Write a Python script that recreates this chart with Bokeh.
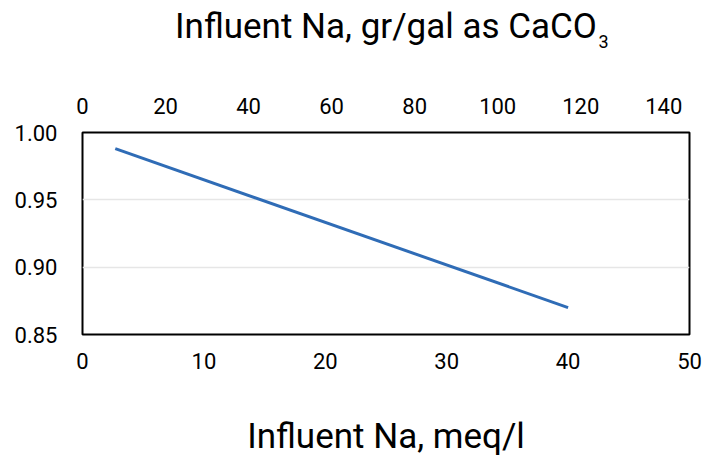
from bokeh.plotting import figure
from bokeh.models import Range1d, LinearAxis, FixedTicker, NumeralTickFormatter, Label
from bokeh.embed import file_html
from bokeh.resources import INLINE

# Data
na_meq = [2.7, 40.0]
factor = [0.988, 0.870]

bottom_ticks = [0, 10, 20, 30, 40, 50]
top_ticks = [0, 20, 40, 60, 80, 100, 120, 140]
left_ticks = [0.85, 0.90, 0.95, 1.00]
top_max = 146.2  # 50 meq/l expressed in gr/gal as CaCO3

FONT = "Roboto"

p = figure(width=705, height=460, output_backend="svg", toolbar_location=None,
           x_range=Range1d(0, 50), y_range=Range1d(0.85, 1.0),
           min_border_left=82, min_border_right=16, min_border_top=132, min_border_bottom=126,
           x_axis_location="below")
p.extra_x_ranges = {"gr": Range1d(0, top_max)}

p.line(na_meq, factor, line_color="#2F6CB6", line_width=3)

p.outline_line_color = "black"
p.outline_line_width = 2
p.background_fill_color = "white"
p.border_fill_color = "white"

p.xgrid.visible = False
p.ygrid.grid_line_color = "#E6E6E6"
p.ygrid.grid_line_width = 1.5
p.ygrid.ticker = FixedTicker(ticks=left_ticks)

xb = p.below[0]
top = LinearAxis(x_range_name="gr")
p.add_layout(top, "above")

def style(ax, standoff):
    ax.axis_line_color = None
    ax.major_tick_line_color = None
    ax.minor_tick_line_color = None
    ax.major_tick_out = 0
    ax.major_tick_in = 0
    ax.major_label_text_font = FONT
    ax.major_label_text_font_size = "22px"
    ax.major_label_text_color = "black"
    ax.major_label_standoff = standoff
    ax.axis_label_text_font = FONT
    ax.axis_label_text_font_size = "35px"
    ax.axis_label_text_font_style = "normal"
    ax.axis_label_text_color = "black"

style(xb, 18)
xb.ticker = FixedTicker(ticks=bottom_ticks)
xb.axis_label = "Influent Na, meq/l"
xb.axis_label_standoff = 44

style(top, 19)
top.ticker = FixedTicker(ticks=top_ticks)
top.axis_label = "Influent Na, gr/gal as CaCO"
top.axis_label_standoff = 48

# subscript "3" of CaCO3 (placed in a side panel so it is not clipped to the frame)
sub = Label(x=598, y=41, x_units="canvas", y_units="canvas", text="3",
            text_font=FONT, text_font_size="18px", text_color="black",
            text_baseline="alphabetic", text_align="left")
p.add_layout(sub, "right")

yl = p.left[0]
style(yl, 25)
yl.ticker = FixedTicker(ticks=left_ticks)
yl.formatter = NumeralTickFormatter(format="0.00")

open("out.html", "w").write(file_html(p, INLINE))
